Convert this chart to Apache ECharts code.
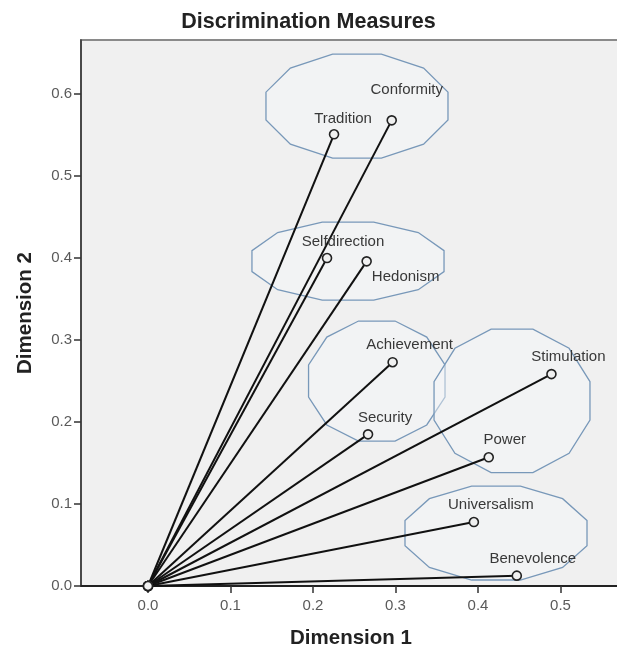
<!DOCTYPE html>
<html>
<head>
<meta charset="utf-8">
<script src="https://cdn.jsdelivr.net/npm/echarts@6/dist/echarts.min.js"></script>
<style>html,body{margin:0;padding:0;background:#fff;}#c{width:617px;height:653px;}</style>
</head>
<body>
<div id="c"></div>
<script>
// ---- data ----
const names = ['Tradition','Conformity','Selfdirection','Hedonism','Achievement','Security','Stimulation','Power','Universalism','Benevolence'];
const dim1 = [0.2255,0.2954,0.217,0.265,0.2965,0.2667,0.489,0.413,0.395,0.447];
const dim2 = [0.551,0.568,0.400,0.396,0.273,0.185,0.2585,0.157,0.078,0.0126];
const xTicks = [0.0,0.1,0.2,0.3,0.4,0.5];
const yTicks = [0.0,0.1,0.2,0.3,0.4,0.5,0.6];
// annotation groups (centre and half-extent in data units)
const groupCx = [0.2533,0.2424,0.2773,0.4412,0.4218];
const groupCy = [0.5854,0.3963,0.250,0.2259,0.0646];
const groupHw = [0.1103,0.1164,0.0827,0.0945,0.1103];
const groupHh = [0.0634,0.0476,0.0732,0.0875,0.0573];

// ---- styles ----
const labelOffset = {
  Tradition:[9,-15], Conformity:[15,-30], Selfdirection:[16,-16], Hedonism:[39,16],
  Achievement:[17,-17], Security:[17,-16], Stimulation:[17,-17], Power:[16,-17],
  Universalism:[17,-17], Benevolence:[16,-17]
};
const FONT = 'Liberation Sans, Arial, sans-serif';

const chart = echarts.init(document.getElementById('c'), null, {renderer:'canvas'});

const series = [];
series.push({
  type:'custom',
  z:1,
  silent:true,
  data: groupCx.map((c,i)=>[c, groupCy[i], groupHw[i], groupHh[i]]),
  renderItem: function(params, api){
    const cx = api.value(0), cy = api.value(1), hw = api.value(2), hh = api.value(3);
    const k = Math.cos(Math.PI/12);
    const pts = [];
    for (let j=0;j<12;j++){
      const a = Math.PI/12 + j*Math.PI/6;
      pts.push(api.coord([cx + hw/k*Math.cos(a), cy + hh/k*Math.sin(a)]));
    }
    return {type:'polygon', shape:{points:pts}, style:{fill:'rgba(244,246,249,0.45)', stroke:'#7898b9', lineWidth:1.3}};
  }
});

names.forEach((n,i)=>{
  series.push({
    type:'line',
    name:n,
    z:3,
    silent:true,
    symbol:'circle',
    symbolSize:9,
    showAllSymbol:true,
    lineStyle:{color:'#111', width:2},
    itemStyle:{color:'#f0f0f0', borderColor:'#222', borderWidth:1.6},
    data:[
      {value:[0,0], label:{show:false}},
      {value:[dim1[i], dim2[i]], label:{
        show:true, formatter:n, position:'inside', offset:labelOffset[n],
        align:'center', verticalAlign:'middle',
        color:'#383838', fontSize:15, fontFamily:FONT
      }}
    ],
    animation:false
  });
});

chart.setOption({
  animation:false,
  backgroundColor:'#ffffff',
  title:{
    text:'Discrimination Measures', left:'center', top:6,
    textStyle:{fontSize:21.5, fontWeight:'bold', color:'#222', fontFamily:FONT}
  },
  grid:{left:81, right:-4, top:40, bottom:67, show:true, backgroundColor:'#f0f0f0', borderColor:'#8a8a8a', borderWidth:2, containLabel:false, outerBoundsMode:'none'},
  xAxis:{
    type:'value', min:-0.0812, max:0.5733,
    name:'Dimension 1', nameLocation:'middle', nameGap:42,
    nameTextStyle:{fontSize:20.5, fontWeight:'bold', color:'#222', fontFamily:FONT},
    axisLine:{show:true, onZero:false, lineStyle:{color:'#222', width:2}},
    axisTick:{show:true, length:7, lineStyle:{color:'#333', width:1.5}, customValues:xTicks},
    axisLabel:{color:'#5a5a5a', fontSize:15, fontFamily:FONT, margin:12, customValues:xTicks, formatter:v=>Number(v).toFixed(1)},
    splitLine:{show:false}
  },
  yAxis:{
    type:'value', min:0, max:0.666,
    name:'Dimension 2', nameLocation:'middle', nameGap:45, nameRotate:90,
    nameTextStyle:{fontSize:20.5, fontWeight:'bold', color:'#222', fontFamily:FONT},
    axisLine:{show:true, onZero:false, lineStyle:{color:'#333', width:1.5}},
    axisTick:{show:true, length:7, lineStyle:{color:'#333', width:1.5}, customValues:yTicks},
    axisLabel:{color:'#5a5a5a', fontSize:15, fontFamily:FONT, margin:9, customValues:yTicks, formatter:v=>Number(v).toFixed(1)},
    splitLine:{show:false}
  },
  series:series
});
</script>
</body>
</html>
